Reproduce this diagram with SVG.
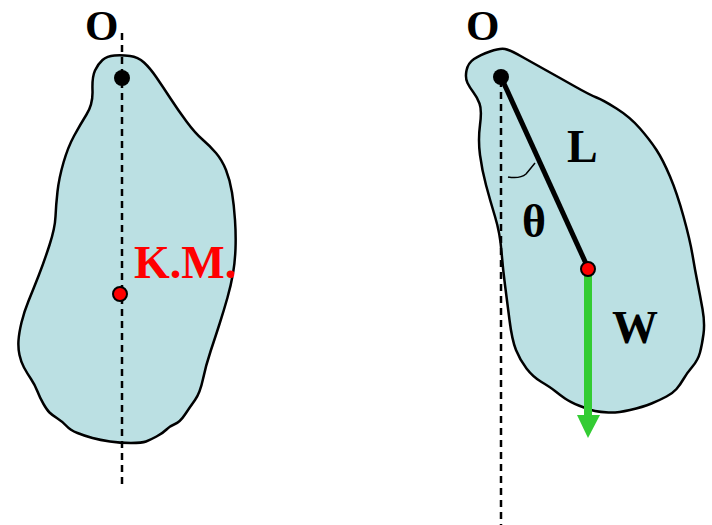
<svg xmlns="http://www.w3.org/2000/svg" width="712" height="525" viewBox="0 0 712 525">
<style>
.body{fill:#bbe0e3;stroke:#000;stroke-width:2.5;stroke-linejoin:round}
.dash{stroke:#000;stroke-width:2.5;stroke-dasharray:7,5;fill:none}
.lbl{font-family:"Liberation Serif","Times New Roman",serif;font-weight:bold;font-size:46px;fill:#000}
.o{font-size:43px}
.red{fill:#ff0000}
</style>
<rect width="712" height="525" fill="#fff"/>
<g id="body-left">
<path class="body" d="M102.5,60 Q107,56 114.5,55.5 Q122,55 130,56 Q138,57 144,62.5 Q150,68 156.5,77.5 Q163,87 170.5,98.5 Q178,110 186.5,121.5 Q195,133 202.5,139.5 Q210,146 216,153 Q222,160 226,170 Q230,180 232,192.5 Q234,205 235,220 Q236,235 235.5,248.5 Q235,262 233,273.5 Q231,285 227.5,297.5 Q224,310 219.5,324 Q215,338 210.5,351.5 Q206,365 203,379 Q200,393 195,400 Q190,407 185,414.5 Q180,422 175,424 Q170,426 166.5,429.5 Q163,433 156.5,436.5 Q150,440 146,441.5 Q142,443 131,443 Q120,443 110,441.5 Q100,440 92.5,438 Q85,436 77.5,433 Q70,430 66.5,426 Q63,422 57.5,418.5 Q52,415 49.5,412.5 Q47,410 43.5,404 Q40,398 37.5,391.5 Q35,385 31,379 Q27,373 24,367.5 Q21,362 19.5,355 Q18,348 18.5,340.5 Q19,333 21.5,322.5 Q24,312 28.5,301 Q33,290 38.5,276 Q44,262 49.5,245 Q55,228 55.5,216.5 Q56,205 57.5,191.5 Q59,178 63.5,162.5 Q68,147 74,136 Q80,125 86.5,114.5 Q93,104 92.5,90.5 Q92,77 95,70.5 Q98,64 102.5,60 Z"/>
</g>
<g id="body-right">
<path class="body" d="M490,51.5 Q500,48 505,49 Q510,50 521.5,56.5 Q533,63 546.5,70.5 Q560,78 575,86.5 Q590,95 596.5,97.5 Q603,100 616.5,108.5 Q630,117 640,128.5 Q650,140 656.5,150 Q663,160 670,176.5 Q677,193 683.5,216.5 Q690,240 692.5,255 Q695,270 697.5,282.5 Q700,295 702.5,309 Q705,323 703.5,334 Q702,345 700,352.5 Q698,360 692.5,366.5 Q687,373 683.5,379 Q680,385 676.5,389 Q673,393 666.5,396.5 Q660,400 651.5,403.5 Q643,407 630,410 Q617,413 608.5,412.5 Q600,412 595,411 Q590,410 580,406 Q570,402 565,398.5 Q560,395 555,391 Q550,387 541.5,382 Q533,377 526.5,368.5 Q520,360 516,350 Q512,340 509.5,320 Q507,300 505,285 Q503,270 501.5,251.5 Q500,233 495,216.5 Q490,200 486,185 Q482,170 480,155 Q478,140 480,125 Q482,110 479.5,103.5 Q477,97 473.5,92.5 Q470,88 467.5,83 Q465,78 466.5,70.5 Q468,63 474,59 Q480,55 490,51.5 Z"/>
</g>
<g id="connectors">
<line class="dash" x1="122" y1="33" x2="122" y2="488"/>
<line class="dash" x1="501" y1="80" x2="501" y2="525"/>
<line x1="501" y1="77" x2="588" y2="268" stroke="#000" stroke-width="5"/>
<path d="M508,177 Q520,179 526,174 Q531,168 535,163" fill="none" stroke="#000" stroke-width="1.5"/>
<line x1="588" y1="272" x2="588" y2="416" stroke="#33cc33" stroke-width="8"/>
<polygon points="577,415 600,415 588,438" fill="#33cc33"/>
</g>
<g id="pivot-left"><circle cx="122" cy="78" r="8" fill="#000"/><text class="lbl o" x="85" y="40">O</text></g>
<g id="cm-left"><circle cx="120" cy="294" r="7" class="red" stroke="#000" stroke-width="2"/><text class="lbl red" x="134" y="278">K.M.</text></g>
<g id="pivot-right"><circle cx="501" cy="77" r="8" fill="#000"/><text class="lbl o" x="466" y="40">O</text></g>
<g id="cm-right"><circle cx="588" cy="269" r="7" class="red" stroke="#000" stroke-width="2"/></g>
<g id="labels-right">
<text class="lbl" x="567" y="162">L</text>
<text class="lbl" x="522" y="237">θ</text>
<text class="lbl" x="612" y="343">W</text>
</g>
</svg>
